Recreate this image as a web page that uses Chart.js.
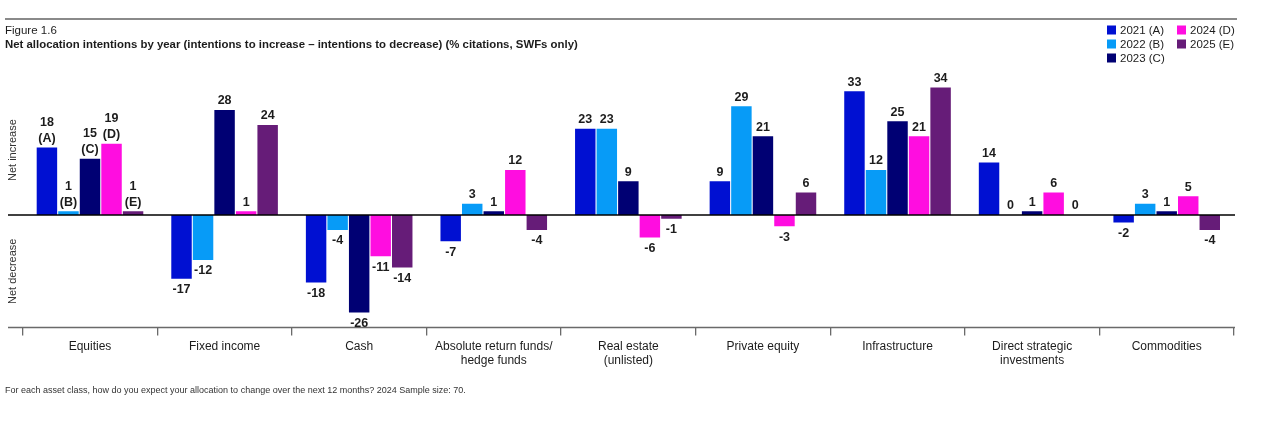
<!DOCTYPE html>
<html><head><meta charset="utf-8">
<script src="https://cdn.jsdelivr.net/npm/chart.js@4.4.1/dist/chart.umd.min.js"></script>
<style>html,body{margin:0;padding:0;background:#fff;overflow:hidden}canvas{display:block}</style>
</head><body>
<canvas id="c" width="1280" height="426"></canvas>
<script>
const categories = ['Equities','Fixed income','Cash',['Absolute return funds/','hedge funds'],['Real estate','(unlisted)'],'Private equity','Infrastructure',['Direct strategic','investments'],'Commodities'];
const seriesNames = ['2021 (A)','2022 (B)','2023 (C)','2024 (D)','2025 (E)'];
const seriesLetters = ['(A)','(B)','(C)','(D)','(E)'];
const values2021 = [18,-17,-18,-7,23,9,33,14,-2];
const values2022 = [1,-12,-4,3,23,29,12,0,3];
const values2023 = [15,28,-26,1,9,21,25,1,1];
const values2024 = [19,1,-11,12,-6,-3,21,6,5];
const values2025 = [1,24,-14,-4,-1,6,34,0,-4];
const seriesValues = [values2021,values2022,values2023,values2024,values2025];
const colors = ['#0010d2','#079bf7','#000073','#ff0de0','#661c78'];
const titleLine1 = 'Figure 1.6';
const titleLine2 = 'Net allocation intentions by year (intentions to increase \u2013 intentions to decrease) (% citations, SWFs only)';
const footnote = 'For each asset class, how do you expect your allocation to change over the next 12 months? 2024 Sample size: 70.';
const axisTitles = ['Net increase','Net decrease'];
const letterCategoryIndex = 0;

const FONT = '"Liberation Sans", Arial, sans-serif';
const TEXT = '#1c1c1c';

const extras = {
  id: 'extras',
  afterDatasetsDraw(chart) {
    const ctx = chart.ctx;
    const ca = chart.chartArea;
    const y = chart.scales.y;
    const y0 = y.getPixelForValue(0);
    ctx.save();
    ctx.strokeStyle = '#000';
    ctx.lineWidth = 1.3;
    ctx.beginPath(); ctx.moveTo(8, y0); ctx.lineTo(ca.right + 1, y0); ctx.stroke();
    ctx.strokeStyle = '#6a6a6a';
    ctx.lineWidth = 1.5;
    ctx.beginPath(); ctx.moveTo(8, ca.bottom); ctx.lineTo(ca.right + 1, ca.bottom); ctx.stroke();
    ctx.fillStyle = TEXT;
    ctx.font = 'bold 12.5px ' + FONT;
    ctx.textAlign = 'center';
    ctx.textBaseline = 'middle';
    chart.data.datasets.forEach((ds, di) => {
      const meta = chart.getDatasetMeta(di);
      meta.data.forEach((bar, i) => {
        const v = ds.data[i];
        const lines = [String(v)];
        if (i === letterCategoryIndex) lines.push(seriesLetters[di]);
        if (v >= 0) {
          const base = bar.y - 9;
          for (let k = 0; k < lines.length; k++) {
            ctx.fillText(lines[k], bar.x, base - (lines.length - 1 - k) * 16);
          }
        } else {
          const base = bar.y + 11;
          for (let k = 0; k < lines.length; k++) {
            ctx.fillText(lines[k], bar.x, base + k * 16);
          }
        }
      });
    });
    ctx.restore();
  },
  afterDraw(chart) {
    const ctx = chart.ctx;
    const y = chart.scales.y;
    ctx.save();
    ctx.strokeStyle = '#8a8a8a';
    ctx.lineWidth = 2;
    ctx.beginPath(); ctx.moveTo(5, 19); ctx.lineTo(1237, 19); ctx.stroke();
    ctx.fillStyle = TEXT;
    ctx.textAlign = 'left';
    ctx.textBaseline = 'middle';
    ctx.font = '11.5px ' + FONT;
    ctx.fillText(titleLine1, 5, 31);
    ctx.font = 'bold 11.4px ' + FONT;
    ctx.fillText(titleLine2, 5, 45);
    ctx.font = '11.5px ' + FONT;
    chart.data.datasets.forEach((ds, i) => {
      const col = Math.floor(i / 3), row = i % 3;
      const bx = 1107 + col * 70, cy = 30 + row * 14;
      ctx.fillStyle = ds.backgroundColor;
      ctx.fillRect(bx, cy - 4.5, 9, 9);
      ctx.fillStyle = TEXT;
      ctx.fillText(ds.label, bx + 13, cy + 0.5);
    });
    ctx.font = '11px ' + FONT;
    ctx.fillStyle = '#333';
    ctx.textAlign = 'center';
    [[axisTitles[0], 17.3], [axisTitles[1], -15]].forEach(([t, v]) => {
      ctx.save();
      ctx.translate(13, y.getPixelForValue(v));
      ctx.rotate(-Math.PI / 2);
      ctx.fillText(t, 0, 0);
      ctx.restore();
    });
    ctx.textAlign = 'left';
    ctx.font = '9px ' + FONT;
    ctx.fillStyle = '#333';
    ctx.fillText(footnote, 5, 391);
    ctx.restore();
  }
};

new Chart(document.getElementById('c'), {
  type: 'bar',
  data: {
    labels: categories,
    datasets: seriesNames.map((n, i) => ({
      label: n,
      data: seriesValues[i],
      backgroundColor: colors[i],
      borderWidth: 0,
      barPercentage: 0.95,
      categoryPercentage: 0.8
    }))
  },
  options: {
    responsive: false,
    animation: false,
    devicePixelRatio: 1,
    layout: { padding: { left: 22.7, right: 46, top: 65, bottom: 50.5 } },
    plugins: { legend: { display: false }, tooltip: { enabled: false } },
    scales: {
      x: {
        grid: { display: true, drawOnChartArea: false, drawTicks: true, tickLength: 8, color: '#6a6a6a', lineWidth: 1.3, offset: true },
        border: { display: false },
        ticks: { color: TEXT, font: { family: FONT, size: 12 }, padding: 4, maxRotation: 0, autoSkip: false },
        afterFit(scale) { scale.height = 48; }
      },
      y: {
        display: false,
        min: -30,
        max: 40
      }
    }
  },
  plugins: [extras]
});
</script>
</body></html>
